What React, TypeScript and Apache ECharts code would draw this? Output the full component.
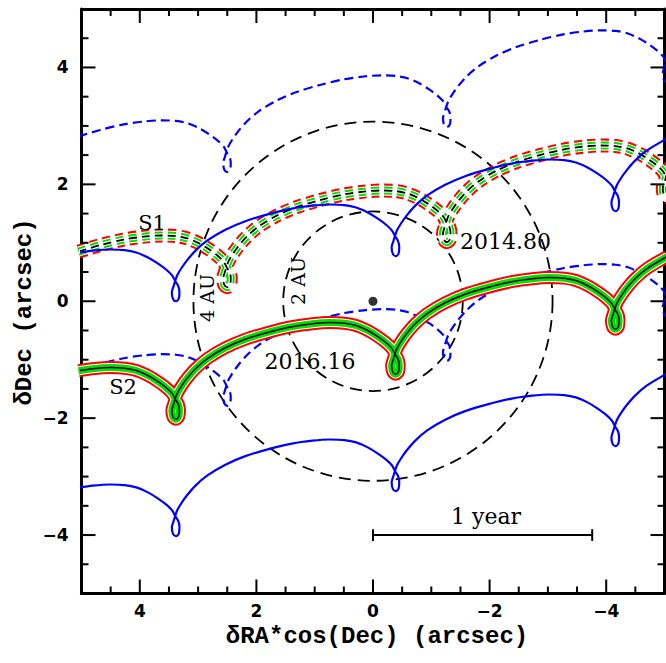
import React, { useEffect, useRef } from "react";
import * as echarts from "echarts";

// ---- data (arcsec) ----
const s2Path: number[][] = [
  [5.05,-1.19],[4.81,-1.155],[4.51,-1.135],[4.26,-1.145],[4.06,-1.185],[3.86,-1.27],[3.68,-1.38],[3.54,-1.485],[3.44,-1.585],
  [3.39,-1.68],
  [3.34,-1.76],[3.32,-1.86],[3.33,-1.97],[3.38,-2.02],[3.43,-1.98],[3.45,-1.87],[3.42,-1.76],
  [3.36,-1.58],[3.29,-1.46],[3.19,-1.32],[3.04,-1.15],[2.84,-0.98],[2.54,-0.80],[2.19,-0.65],[1.79,-0.53],[1.39,-0.435],[1.04,-0.385],[0.74,-0.365],[0.49,-0.375],[0.29,-0.415],[0.09,-0.50],[-0.09,-0.61],[-0.23,-0.715],[-0.33,-0.815],
  [-0.38,-0.91],
  [-0.43,-0.99],[-0.45,-1.09],[-0.44,-1.20],[-0.39,-1.25],[-0.34,-1.21],[-0.32,-1.10],[-0.35,-0.99],
  [-0.41,-0.81],[-0.48,-0.69],[-0.58,-0.55],[-0.73,-0.38],[-0.93,-0.21],[-1.23,-0.03],[-1.58,0.12],[-1.98,0.24],[-2.38,0.335],[-2.73,0.385],[-3.03,0.405],[-3.28,0.395],[-3.48,0.355],[-3.68,0.27],[-3.86,0.16],[-4.00,0.055],[-4.10,-0.045],
  [-4.15,-0.14],
  [-4.20,-0.22],[-4.22,-0.32],[-4.21,-0.43],[-4.16,-0.48],[-4.11,-0.44],[-4.09,-0.33],[-4.12,-0.22],
  [-4.18,-0.04],[-4.25,0.08],[-4.35,0.22],[-4.50,0.39],[-4.70,0.56],[-5.00,0.74],[-5.05,0.77],
];

const blueSolidUpper: number[][] = [
  [5.05,0.83],[4.81,0.865],[4.51,0.885],[4.26,0.875],[4.06,0.835],[3.86,0.75],[3.68,0.64],[3.54,0.535],[3.44,0.435],
  [3.39,0.34],
  [3.34,0.26],[3.32,0.16],[3.33,0.05],[3.38,0.00],[3.43,0.04],[3.45,0.15],[3.42,0.26],
  [3.36,0.44],[3.29,0.56],[3.19,0.70],[3.04,0.87],[2.84,1.04],[2.54,1.22],[2.19,1.37],[1.79,1.49],[1.39,1.585],[1.04,1.635],[0.74,1.655],[0.49,1.645],[0.29,1.605],[0.09,1.52],[-0.09,1.41],[-0.23,1.305],[-0.33,1.205],
  [-0.38,1.11],
  [-0.43,1.03],[-0.45,0.93],[-0.44,0.82],[-0.39,0.77],[-0.34,0.81],[-0.32,0.92],[-0.35,1.03],
  [-0.41,1.21],[-0.48,1.33],[-0.58,1.47],[-0.73,1.64],[-0.93,1.81],[-1.23,1.99],[-1.58,2.14],[-1.98,2.26],[-2.38,2.355],[-2.73,2.405],[-3.03,2.425],[-3.28,2.415],[-3.48,2.375],[-3.68,2.29],[-3.86,2.18],[-4.00,2.075],[-4.10,1.975],
  [-4.15,1.88],
  [-4.20,1.80],[-4.22,1.70],[-4.21,1.59],[-4.16,1.54],[-4.11,1.58],[-4.09,1.69],[-4.12,1.80],
  [-4.18,1.98],[-4.25,2.10],[-4.35,2.24],[-4.50,2.41],[-4.70,2.58],[-5.00,2.76],[-5.05,2.79],
];

const blueSolidLower: number[][] = [
  [5.05,-3.19],[4.81,-3.155],[4.51,-3.135],[4.26,-3.145],[4.06,-3.185],[3.86,-3.27],[3.68,-3.38],[3.54,-3.485],[3.44,-3.585],
  [3.39,-3.68],
  [3.34,-3.76],[3.32,-3.86],[3.33,-3.97],[3.38,-4.02],[3.43,-3.98],[3.45,-3.87],[3.42,-3.76],
  [3.36,-3.58],[3.29,-3.46],[3.19,-3.32],[3.04,-3.15],[2.84,-2.98],[2.54,-2.80],[2.19,-2.65],[1.79,-2.53],[1.39,-2.435],[1.04,-2.385],[0.74,-2.365],[0.49,-2.375],[0.29,-2.415],[0.09,-2.50],[-0.09,-2.61],[-0.23,-2.715],[-0.33,-2.815],
  [-0.38,-2.91],
  [-0.43,-2.99],[-0.45,-3.09],[-0.44,-3.20],[-0.39,-3.25],[-0.34,-3.21],[-0.32,-3.10],[-0.35,-2.99],
  [-0.41,-2.81],[-0.48,-2.69],[-0.58,-2.55],[-0.73,-2.38],[-0.93,-2.21],[-1.23,-2.03],[-1.58,-1.88],[-1.98,-1.76],[-2.38,-1.665],[-2.73,-1.615],[-3.03,-1.595],[-3.28,-1.605],[-3.48,-1.645],[-3.68,-1.73],[-3.86,-1.84],[-4.00,-1.945],[-4.10,-2.045],
  [-4.15,-2.14],
  [-4.20,-2.22],[-4.22,-2.32],[-4.21,-2.43],[-4.16,-2.48],[-4.11,-2.44],[-4.09,-2.33],[-4.12,-2.22],
  [-4.18,-2.04],[-4.25,-1.92],[-4.35,-1.78],[-4.50,-1.61],[-4.70,-1.44],[-5.00,-1.26],[-5.05,-1.23],
];

const s1Path: number[][] = [
  [5.05,0.85],[4.68,0.96],[4.28,1.055],[3.93,1.105],[3.63,1.125],[3.38,1.115],[3.18,1.075],[2.98,0.99],[2.80,0.88],[2.66,0.775],[2.56,0.675],
  [2.51,0.58],
  [2.46,0.50],[2.44,0.40],[2.45,0.29],[2.50,0.24],[2.55,0.28],[2.57,0.39],[2.54,0.50],
  [2.48,0.68],[2.41,0.80],[2.31,0.94],[2.16,1.11],[1.96,1.28],[1.66,1.46],[1.31,1.61],[0.91,1.73],[0.51,1.825],[0.16,1.875],[-0.14,1.895],[-0.39,1.885],[-0.59,1.845],[-0.79,1.76],[-0.97,1.65],[-1.11,1.545],[-1.21,1.445],
  [-1.26,1.35],
  [-1.31,1.27],[-1.33,1.17],[-1.32,1.06],[-1.27,1.01],[-1.22,1.05],[-1.20,1.16],[-1.23,1.27],
  [-1.29,1.45],[-1.36,1.57],[-1.46,1.71],[-1.61,1.88],[-1.81,2.05],[-2.11,2.23],[-2.46,2.38],[-2.86,2.50],[-3.26,2.595],[-3.61,2.645],[-3.91,2.665],[-4.16,2.655],[-4.36,2.615],[-4.56,2.53],[-4.74,2.42],[-4.88,2.315],[-4.98,2.215],
  [-5.03,2.12],
  [-5.08,2.04],[-5.10,1.94],[-5.09,1.83],[-5.04,1.78],[-4.99,1.82],[-4.97,1.93],[-5.00,2.04],
  [-5.06,2.22],[-5.13,2.34],
];

const blueDashedUpper: number[][] = [
  [5.05,2.82],[4.68,2.93],[4.28,3.025],[3.93,3.075],[3.63,3.095],[3.38,3.085],[3.18,3.045],[2.98,2.96],[2.80,2.85],[2.66,2.745],[2.56,2.645],
  [2.51,2.55],
  [2.46,2.47],[2.44,2.37],[2.45,2.26],[2.50,2.21],[2.55,2.25],[2.57,2.36],[2.54,2.47],
  [2.48,2.65],[2.41,2.77],[2.31,2.91],[2.16,3.08],[1.96,3.25],[1.66,3.43],[1.31,3.58],[0.91,3.70],[0.51,3.795],[0.16,3.845],[-0.14,3.865],[-0.39,3.855],[-0.59,3.815],[-0.79,3.73],[-0.97,3.62],[-1.11,3.515],[-1.21,3.415],
  [-1.26,3.32],
  [-1.31,3.24],[-1.33,3.14],[-1.32,3.03],[-1.27,2.98],[-1.22,3.02],[-1.20,3.13],[-1.23,3.24],
  [-1.29,3.42],[-1.36,3.54],[-1.46,3.68],[-1.61,3.85],[-1.81,4.02],[-2.11,4.20],[-2.46,4.35],[-2.86,4.47],[-3.26,4.565],[-3.61,4.615],[-3.91,4.635],[-4.16,4.625],[-4.36,4.585],[-4.56,4.50],[-4.74,4.39],[-4.88,4.285],[-4.98,4.185],
  [-5.03,4.09],
  [-5.08,4.01],[-5.10,3.91],[-5.09,3.80],[-5.04,3.75],[-4.99,3.79],[-4.97,3.90],[-5.00,4.01],
  [-5.06,4.19],[-5.13,4.31],
];

const blueDashedLower: number[][] = [
  [5.05,-1.18],[4.68,-1.07],[4.28,-0.975],[3.93,-0.925],[3.63,-0.905],[3.38,-0.915],[3.18,-0.955],[2.98,-1.04],[2.80,-1.15],[2.66,-1.255],[2.56,-1.355],
  [2.51,-1.45],
  [2.46,-1.53],[2.44,-1.63],[2.45,-1.74],[2.50,-1.79],[2.55,-1.75],[2.57,-1.64],[2.54,-1.53],
  [2.48,-1.35],[2.41,-1.23],[2.31,-1.09],[2.16,-0.92],[1.96,-0.75],[1.66,-0.57],[1.31,-0.42],[0.91,-0.30],[0.51,-0.205],[0.16,-0.155],[-0.14,-0.135],[-0.39,-0.145],[-0.59,-0.185],[-0.79,-0.27],[-0.97,-0.38],[-1.11,-0.485],[-1.21,-0.585],
  [-1.26,-0.68],
  [-1.31,-0.76],[-1.33,-0.86],[-1.32,-0.97],[-1.27,-1.02],[-1.22,-0.98],[-1.20,-0.87],[-1.23,-0.76],
  [-1.29,-0.58],[-1.36,-0.46],[-1.46,-0.32],[-1.61,-0.15],[-1.81,0.02],[-2.11,0.20],[-2.46,0.35],[-2.86,0.47],[-3.26,0.565],[-3.61,0.615],[-3.91,0.635],[-4.16,0.625],[-4.36,0.585],[-4.56,0.50],[-4.74,0.39],[-4.88,0.285],[-4.98,0.185],
  [-5.03,0.09],
  [-5.08,0.01],[-5.10,-0.09],[-5.09,-0.20],[-5.04,-0.25],[-4.99,-0.21],[-4.97,-0.10],[-5.00,0.01],
  [-5.06,0.19],[-5.13,0.31],
];

const circleRadii = [1.54, 3.08];
const circleLabels = ["2 AU", "4 AU"];
const centerPoint = [[0, 0]];
const epochMarks = [[-1.21, 1.03], [0.18, -0.46]];
const epochLabels = ["2014.80", "2016.16"];
const seriesLabels = ["S1", "S2"];
const scaleBarX = [0, -3.76];
const scaleBarY = -4.0;
const scaleBarTick = 0.1;
const scaleBarLabel = "1 year";
const majorTicks = [-4, -2, 0, 2, 4];
const minorTicks = [-4.5, -3.5, -3, -2.5, -1.5, -1, -0.5, 0.5, 1, 1.5, 2.5, 3, 3.5, 4.5];
const AXIS_MIN = -5;
const AXIS_MAX = 5;
const xTitle = "δRA*cos(Dec) (arcsec)";
const yTitle = "δDec (arcsec)";

const MONO = '"Liberation Mono", "Courier New", monospace';
const SERIF = '"DejaVu Serif", serif';
const LABEL_FONT = '"DejaVu Sans", sans-serif';
const BLUE = "#0000ff";
const RED = "#ff0000";
const GREEN = "#00e000";
const MAJOR_LEN = 14;
const MINOR_LEN = 7;
const TICK_W = 2;
const GRID = { left: 81.5, top: 9, width: 583, height: 584.5 };

const fmt = (v: number) => (v < 0 ? "\u2212" + Math.abs(v) : String(v));

function line(data: number[][], color: string, width: number, dash: number[] | null) {
  return {
    type: "line",
    data,
    xAxisIndex: 0,
    yAxisIndex: 0,
    symbol: "none",
    showSymbol: false,
    smooth: 0.3,
    silent: true,
    clip: true,
    lineStyle: { color, width, type: dash ? dash : "solid", cap: "butt", join: "round" },
  };
}

function segment(a: number[], b: number[]) {
  return {
    type: "line",
    data: [a, b],
    xAxisIndex: 0,
    yAxisIndex: 0,
    symbol: "none",
    showSymbol: false,
    silent: true,
    clip: false,
    lineStyle: { color: "#000", width: 2, cap: "butt" },
  };
}

// frame ticks as rect symbols anchored on the frame, shifted inward by half their length
function tickScatter(values: number[], len: number, side: "bottom" | "top" | "left" | "right") {
  const vertical = side === "bottom" || side === "top";
  const data = values.map((v) =>
    side === "bottom" ? [v, AXIS_MIN] : side === "top" ? [v, AXIS_MAX] : side === "left" ? [AXIS_MAX, v] : [AXIS_MIN, v]
  );
  const off =
    side === "bottom" ? [0, -len / 2] : side === "top" ? [0, len / 2] : side === "left" ? [len / 2, 0] : [-len / 2, 0];
  return {
    type: "scatter",
    xAxisIndex: 0,
    yAxisIndex: 0,
    silent: true,
    clip: false,
    z: 20,
    data,
    symbol: "rect",
    symbolSize: vertical ? [TICK_W, len] : [len, TICK_W],
    symbolOffset: off,
    itemStyle: { color: "#000", opacity: 1 },
  };
}

function axis(kind: "x" | "y", position: string, showLabels: boolean) {
  return {
    type: "value",
    min: AXIS_MIN,
    max: AXIS_MAX,
    position,
    inverse: kind === "x",
    splitLine: { show: false },
    axisLine: { show: true, onZero: false, lineStyle: { color: "#000", width: 3 } },
    axisTick: { show: false },
    axisLabel: {
      show: showLabels,
      customValues: majorTicks,
      formatter: fmt,
      color: "#000",
      fontFamily: LABEL_FONT,
      fontWeight: "bold",
      fontSize: 17,
      margin: kind === "x" ? 9 : 13,
    },
  };
}

function text(t: string, x: number, y: number, size: number, family: string, opts: any = {}) {
  return {
    type: "text",
    x,
    y,
    rotation: opts.rotation || 0,
    silent: true,
    z: 100,
    style: {
      text: t,
      fill: "#000",
      font: `${opts.weight || "normal"} ${size}px ${family}`,
      textAlign: opts.align || "center",
      textVerticalAlign: "middle",
    },
  };
}

export default function App() {
  const ref = useRef<HTMLDivElement>(null);
  useEffect(() => {
    const chart = echarts.init(ref.current!, null, { renderer: "svg" });
    const sides: ("bottom" | "top" | "left" | "right")[] = ["bottom", "top", "left", "right"];
    const option: any = {
      animation: false,
      backgroundColor: "#fff",
      grid: { ...GRID, containLabel: false },
      xAxis: [axis("x", "bottom", true), axis("x", "top", false)],
      yAxis: [axis("y", "left", true), axis("y", "right", false)],
      series: [
        line(blueDashedLower, BLUE, 2.2, [9, 5]),
        // S2 band (solid)
        line(s2Path, RED, 13, null),
        line(s2Path, "#ffffff", 9, null),
        line(s2Path, GREEN, 7, null),
        line(s2Path, "#000", 1.5, null),
        // S1 band (dashed)
        line(s1Path, RED, 14, [8, 5]),
        line(s1Path, "#ffffff", 10, null),
        line(s1Path, GREEN, 8, [8, 5]),
        line(s1Path, "#ffffff", 4, null),
        line(s1Path, "#000", 1.8, [8, 5]),
        line(blueDashedUpper, BLUE, 2.2, [9, 5]),
        line(blueSolidUpper, BLUE, 2.2, null),
        line(blueSolidLower, BLUE, 2.2, null),
        {
          type: "custom",
          xAxisIndex: 0,
          yAxisIndex: 0,
          silent: true,
          data: circleRadii.map((r) => [0, 0, r]),
          encode: { x: 0, y: 1 },
          renderItem: (_p: any, api: any) => {
            const c = api.coord([api.value(0), api.value(1)]);
            const r = api.size([api.value(2), 0])[0];
            return {
              type: "circle",
              shape: { cx: c[0], cy: c[1], r },
              style: { fill: "none", stroke: "#000", lineWidth: 1.8, lineDash: [12, 7] },
            };
          },
        },
        segment([scaleBarX[0], scaleBarY], [scaleBarX[1], scaleBarY]),
        ...scaleBarX.map((x) => segment([x, scaleBarY + scaleBarTick], [x, scaleBarY - scaleBarTick])),
        {
          type: "scatter",
          xAxisIndex: 0,
          yAxisIndex: 0,
          silent: true,
          data: centerPoint,
          symbol: "circle",
          symbolSize: 9,
          itemStyle: { color: "#000" },
        },
        {
          type: "scatter",
          xAxisIndex: 0,
          yAxisIndex: 0,
          silent: true,
          data: epochMarks,
          symbol: "path://M0,0L10,10M10,0L0,10M5,0L5,10",
          symbolSize: 7,
          itemStyle: { color: "none", borderColor: "#000", borderWidth: 2 },
        },
        ...sides.map((s) => tickScatter(majorTicks, MAJOR_LEN, s)),
        ...sides.map((s) => tickScatter(minorTicks, MINOR_LEN, s)),
      ],
      graphic: [
        text(xTitle, 377, 636, 24, MONO, { weight: "bold" }),
        text(yTitle, 24, 312, 24, MONO, { weight: "bold", rotation: Math.PI / 2 }),
        text(seriesLabels[0], 152, 223, 21, SERIF),
        text(seriesLabels[1], 123, 387, 21, SERIF),
        text(epochLabels[0], 460, 241, 22, SERIF, { align: "left" }),
        text(epochLabels[1], 310, 361, 22, SERIF),
        text(scaleBarLabel, 486, 516, 22, SERIF),
        text(circleLabels[1], 207, 298, 19, SERIF, { rotation: Math.PI / 2 }),
        text(circleLabels[0], 298, 281, 19, SERIF, { rotation: Math.PI / 2 }),
      ],
    };
    chart.setOption(option);
    return () => chart.dispose();
  }, []);
  return (
    <div
      ref={ref}
      style={{ position: "fixed", left: 0, top: 0, width: 666, height: 663, background: "#fff" }}
    />
  );
}
